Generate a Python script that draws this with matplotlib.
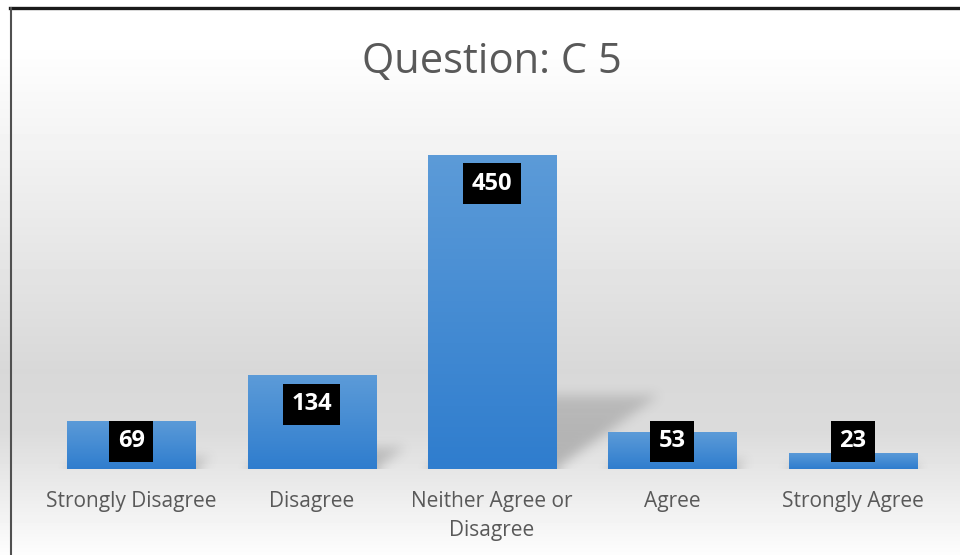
import numpy as np
import matplotlib
matplotlib.use('Agg')
import matplotlib.pyplot as plt
from matplotlib.lines import Line2D
from matplotlib.colors import LinearSegmentedColormap

categories = ["Strongly Disagree", "Disagree", "Neither Agree or\nDisagree", "Agree", "Strongly Agree"]
values = [69, 134, 450, 53, 23]
title = "Question: C 5"

plt.rcParams['font.family'] = ['Open Sans', 'DejaVu Sans']

W, H = 960, 555
fig = plt.figure(figsize=(W / 100, H / 100), dpi=100)

# ---- background gradient (whole figure) ----
bg = fig.add_axes([0, 0, 1, 1], zorder=0)
rows = np.arange(H)
gray = np.interp(rows, [0, 50, 370, 430, 555], [255, 254, 216, 219, 253]) / 255.0
img = np.repeat(gray[:, None], 8, axis=1)
bg.imshow(img, cmap='gray', vmin=0, vmax=1, aspect='auto', extent=(0, 1, 0, 1), origin='upper')
bg.set_xlim(0, 1)
bg.set_ylim(0, 1)
bg.axis('off')

# ---- main axes ----
ymax = 500
ax = fig.add_axes([41 / W, (H - 469) / H, (943 - 41) / W, (469 - 120) / H], zorder=1)
ax.patch.set_alpha(0)
x = np.arange(len(values))
bars = ax.bar(x, values, width=0.71, color='#4a8fd6', zorder=3)

# shadows (blurred skewed parallelograms behind bars)
nx, ny = 902, 349
xs = np.linspace(-0.5, len(values) - 0.5, nx)
ys = np.linspace(0, ymax, ny)
XX, YY = np.meshgrid(xs, ys)
k = 0.00543
tfrac = 0.235
shadow = np.zeros_like(XX)
for b in bars:
    xl = b.get_x()
    xr = xl + b.get_width()
    h = b.get_height()
    top = tfrac * h
    m = (YY >= 0) & (YY <= top) & (XX >= xl + k * YY) & (XX <= xr + k * YY)
    inten = 0.30 - 0.10 * (YY / max(top, 1e-9))
    shadow = np.maximum(shadow, np.where(m, inten, 0))

def box_blur(a, r):
    for axis in (0, 1):
        c = np.cumsum(np.pad(a, [(r + 1, r) if i == axis else (0, 0) for i in range(2)], mode='edge'), axis=axis)
        if axis == 0:
            a = (c[2 * r + 1:, :] - c[:-2 * r - 1, :]) / (2 * r + 1)
        else:
            a = (c[:, 2 * r + 1:] - c[:, :-2 * r - 1]) / (2 * r + 1)
    return a

for _ in range(3):
    shadow = box_blur(shadow, 5)
rgba = np.zeros((ny, nx, 4))
rgba[..., :3] = 0.25
rgba[..., 3] = shadow
ax.imshow(rgba, extent=(xs[0], xs[-1], 0, ymax), origin='lower', aspect='auto', zorder=2, interpolation='bilinear')

# gradient fill inside each bar
bar_cmap = LinearSegmentedColormap.from_list('barg', ['#2f7dce', '#5c9bd8'])
grad = np.linspace(0, 1, 256)[:, None]
for b in bars:
    im = ax.imshow(grad, cmap=bar_cmap, aspect='auto', origin='lower',
                   extent=(b.get_x(), b.get_x() + b.get_width(), 0, b.get_height()), zorder=4)
    im.set_clip_path(b)

# data labels
for xi, v in zip(x, values):
    ly = max(v - 41.5, 40)
    ax.text(xi, ly, str(v), ha='center', va='center', color='white', fontsize=17,
            fontweight='bold', zorder=6,
            bbox=dict(boxstyle='square,pad=0.36', facecolor='black', edgecolor='none'))

ax.set_xlim(-0.5, len(values) - 0.5)
ax.set_ylim(0, ymax)
ax.set_xticks(x)
ax.set_xticklabels(categories, fontsize=15, color='#595959', linespacing=1.5)
ax.tick_params(axis='x', length=0, pad=16)
ax.set_yticks([])
for s in ax.spines.values():
    s.set_visible(False)

fig.text(492 / W, 1 - 62 / H, title, ha='center', va='center', fontsize=30, color='#595959')

# frame lines
fig.add_artist(Line2D([10 / W, 1], [1 - 7.5 / H] * 2, color='#1a1a1a', lw=2.4, transform=fig.transFigure))
fig.add_artist(Line2D([10.5 / W] * 2, [0, 1 - 7.5 / H], color='#505050', lw=1.5, transform=fig.transFigure))

fig.savefig('out.png', dpi=100)
